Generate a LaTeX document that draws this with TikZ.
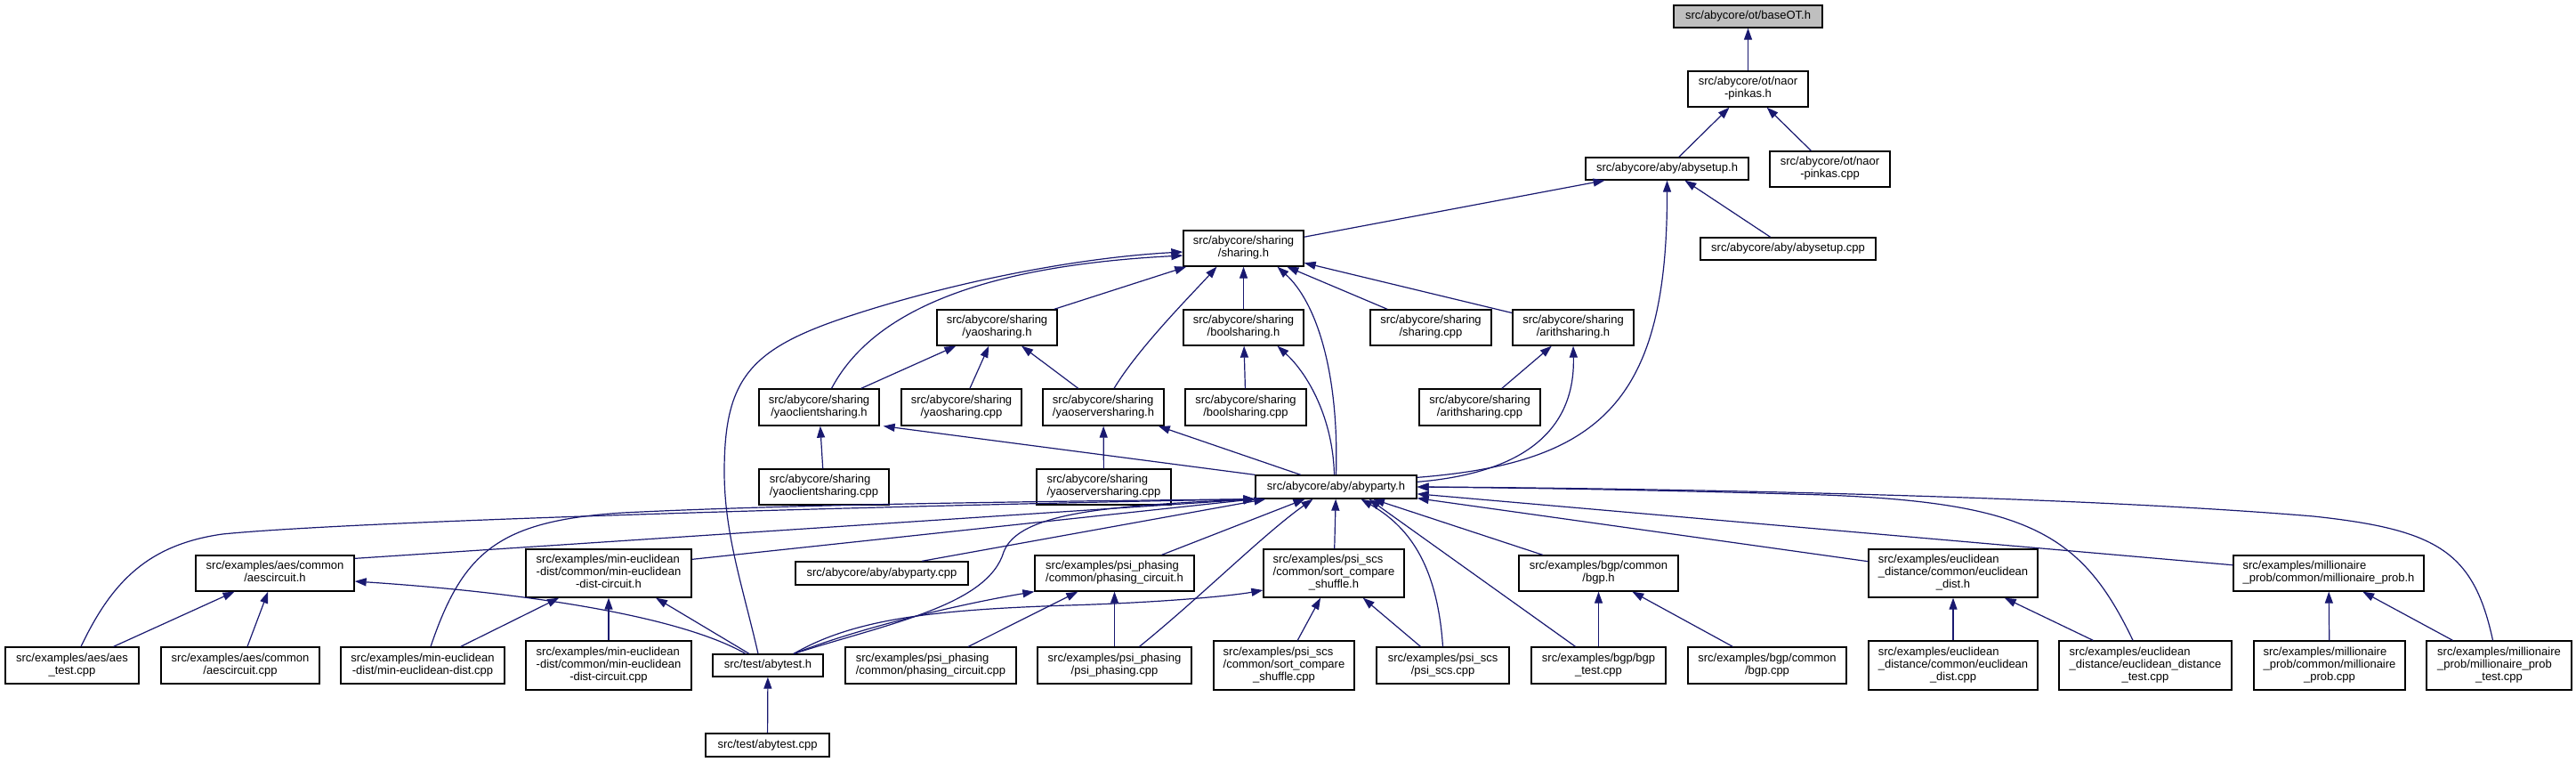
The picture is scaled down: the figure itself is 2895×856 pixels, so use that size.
\documentclass[tikz,border=0pt]{standalone}
\usepackage{fontspec}
\setmainfont{Liberation Sans}
\usetikzlibrary{arrows.meta}
\definecolor{edgeblue}{HTML}{191970}
\definecolor{rootgray}{HTML}{BFBFBF}
\newcommand\twol[2]{\begin{tabular}{@{}l@{}}#1\\\multicolumn{1}{@{}c@{}}{#2}\end{tabular}}
\newcommand\threel[3]{\begin{tabular}{@{}l@{}}#1\\#2\\\multicolumn{1}{@{}c@{}}{#3}\end{tabular}}
\newcommand\dnode[7][]{\node[filebox,#1,minimum width={#4-#3},minimum height={#6-#5}] (#2) at ({(#3+#4)/2},{(#5+#6)/2}) {#7};}
\begin{document}
\begin{tikzpicture}[x=1pt,y=-1pt,
  filebox/.style={draw=black,line width=1.3pt,fill=white,inner sep=0pt,font=\fontsize{13}{14}\selectfont},
  dep/.style={draw=edgeblue,line width=1.2pt,-{Triangle[length=13pt,width=9pt]}}]
\fill[white] (0,0) rectangle (2895,856);
\useasboundingbox (0,0) rectangle (2895,856);
% rows 0-6
\dnode[fill=rootgray]{baseOT}{1881}{2048}{6}{31}{src/abycore/ot/baseOT.h}
\dnode{naorh}{1897}{2032}{80}{120}{\twol{src/abycore/ot/naor}{-pinkas.h}}
\dnode{abysetuph}{1782}{1965}{177}{202}{src/abycore/aby/abysetup.h}
\dnode{naorcpp}{1989}{2124}{170}{210}{\twol{src/abycore/ot/naor}{-pinkas.cpp}}
\dnode{sharingh}{1330}{1465}{259}{299}{\twol{src/abycore/sharing}{/sharing.h}}
\dnode{abysetupcpp}{1911}{2108}{267}{292}{src/abycore/aby/abysetup.cpp}
\dnode{yaosharingh}{1053}{1188}{348}{388}{\twol{src/abycore/sharing}{/yaosharing.h}}
\dnode{boolsharingh}{1330}{1465}{348}{388}{\twol{src/abycore/sharing}{/boolsharing.h}}
\dnode{sharingcpp}{1540}{1676}{348}{388}{\twol{src/abycore/sharing}{/sharing.cpp}}
\dnode{arithsharingh}{1700}{1836}{348}{388}{\twol{src/abycore/sharing}{/arithsharing.h}}
\dnode{yaoclienth}{853}{988}{437}{478}{\twol{src/abycore/sharing}{/yaoclientsharing.h}}
\dnode{yaosharingcpp}{1013}{1148}{437}{478}{\twol{src/abycore/sharing}{/yaosharing.cpp}}
\dnode{yaoserverh}{1172}{1308}{437}{478}{\twol{src/abycore/sharing}{/yaoserversharing.h}}
\dnode{boolsharingcpp}{1332}{1468}{437}{478}{\twol{src/abycore/sharing}{/boolsharing.cpp}}
\dnode{arithsharingcpp}{1595}{1731}{437}{478}{\twol{src/abycore/sharing}{/arithsharing.cpp}}
\dnode{yaoclientcpp}{853}{999}{527}{567}{\twol{src/abycore/sharing}{/yaoclientsharing.cpp}}
\dnode{yaoservercpp}{1165}{1316}{527}{567}{\twol{src/abycore/sharing}{/yaoserversharing.cpp}}
\dnode{abypartyh}{1411}{1592}{534}{560}{src/abycore/aby/abyparty.h}
% row 7
\dnode{aescircuith}{220}{398}{624}{664}{\twol{src/examples/aes/common}{/aescircuit.h}}
\dnode{minh}{591}{777}{617}{671}{\threel{src/examples/min-euclidean}{-dist/common/min-euclidean}{-dist-circuit.h}}
\dnode{abypartycpp}{894}{1088}{631}{657}{src/abycore/aby/abyparty.cpp}
\dnode{phasingh}{1163}{1342}{624}{664}{\twol{src/examples/psi\_phasing}{/common/phasing\_circuit.h}}
\dnode{scsh}{1420}{1578}{617}{671}{\threel{src/examples/psi\_scs}{/common/sort\_compare}{\_shuffle.h}}
\dnode{bgph}{1707}{1886}{624}{664}{\twol{src/examples/bgp/common}{/bgp.h}}
\dnode{eucdisth}{2100}{2290}{617}{671}{\threel{src/examples/euclidean}{\_distance/common/euclidean}{\_dist.h}}
\dnode{millh}{2510}{2724}{624}{664}{\twol{src/examples/millionaire}{\_prob/common/millionaire\_prob.h}}
% row 8
\dnode{aestest}{6}{156}{727}{768}{\twol{src/examples/aes/aes}{\_test.cpp}}
\dnode{aescircuitcpp}{181}{359}{727}{768}{\twol{src/examples/aes/common}{/aescircuit.cpp}}
\dnode{mincpp}{383}{567}{727}{768}{\twol{src/examples/min-euclidean}{-dist/min-euclidean-dist.cpp}}
\dnode{mincircuitcpp}{591}{777}{720}{775}{\threel{src/examples/min-euclidean}{-dist/common/min-euclidean}{-dist-circuit.cpp}}
\dnode{abytesth}{801}{925}{735}{760}{src/test/abytest.h}
\dnode{phasingcpp}{950}{1142}{727}{768}{\twol{src/examples/psi\_phasing}{/common/phasing\_circuit.cpp}}
\dnode{psiphasingcpp}{1166}{1339}{727}{768}{\twol{src/examples/psi\_phasing}{/psi\_phasing.cpp}}
\dnode{scscpp}{1364}{1522}{720}{775}{\threel{src/examples/psi\_scs}{/common/sort\_compare}{\_shuffle.cpp}}
\dnode{psiscscpp}{1547}{1696}{727}{768}{\twol{src/examples/psi\_scs}{/psi\_scs.cpp}}
\dnode{bgptest}{1721}{1872}{727}{768}{\twol{src/examples/bgp/bgp}{\_test.cpp}}
\dnode{bgpcpp}{1897}{2075}{727}{768}{\twol{src/examples/bgp/common}{/bgp.cpp}}
\dnode{eucdistcpp}{2100}{2290}{720}{775}{\threel{src/examples/euclidean}{\_distance/common/euclidean}{\_dist.cpp}}
\dnode{euctest}{2314}{2508}{720}{775}{\threel{src/examples/euclidean}{\_distance/euclidean\_distance}{\_test.cpp}}
\dnode{millcpp}{2533}{2703}{720}{775}{\threel{src/examples/millionaire}{\_prob/common/millionaire}{\_prob.cpp}}
\dnode{milltest}{2727}{2890}{720}{775}{\threel{src/examples/millionaire}{\_prob/millionaire\_prob}{\_test.cpp}}
\dnode{abytestcpp}{793}{932}{824}{850}{src/test/abytest.cpp}
% straight edges
\draw[dep] (naorh) -- (baseOT);
\draw[dep] (abysetuph) -- (naorh);
\draw[dep] (naorcpp) -- (naorh);
\draw[dep] (sharingh) -- (abysetuph);
\draw[dep] (abysetupcpp) -- (abysetuph);
\draw[dep] (yaosharingh) -- (sharingh);
\draw[dep] (boolsharingh) -- (sharingh);
\draw[dep] (sharingcpp) -- (sharingh);
\draw[dep] (arithsharingh) -- (sharingh);
\draw[dep] (yaoclienth) -- (yaosharingh);
\draw[dep] (yaosharingcpp) -- (yaosharingh);
\draw[dep] (yaoserverh) -- (yaosharingh);
\draw[dep] (boolsharingcpp) -- (boolsharingh);
\draw[dep] (arithsharingcpp) -- (arithsharingh);
\draw[dep] (yaoclientcpp) -- (yaoclienth);
\draw[dep] (yaoservercpp) -- (yaoserverh);
\draw[dep] (abypartyh.north west) -- ([xshift=4pt]yaoclienth.south east);
\draw[dep] (abypartyh) -- (yaoserverh);
\draw[dep] (aestest) -- (aescircuith);
\draw[dep] (aescircuitcpp) -- (aescircuith);
\draw[dep] (mincpp) -- (minh);
\draw[dep] (mincircuitcpp) -- (minh);
\draw[dep] (abytestcpp) -- (abytesth);
\draw[dep] (phasingcpp) -- (phasingh);
\draw[dep] (psiphasingcpp) -- (phasingh);
\draw[dep] (scscpp) -- (scsh);
\draw[dep] (psiscscpp) -- (scsh);
\draw[dep] (bgptest) -- (bgph);
\draw[dep] (bgpcpp) -- (bgph);
\draw[dep] (eucdistcpp) -- (eucdisth);
\draw[dep] (euctest) -- (eucdisth);
\draw[dep] (millcpp) -- (millh);
\draw[dep] (milltest) -- (millh);
\draw[dep] (scsh) -- (abypartyh);
\draw[dep] (phasingh) -- (abypartyh);
\draw[dep] (bgph) -- (abypartyh);
\draw[dep] ([xshift=-26pt]bgptest.north) -- ([xshift=37pt]abypartyh.south);
\draw[dep] (eucdisth) -- (abypartyh);
\draw[dep] (millh) -- (abypartyh);
\draw[dep] ([yshift=-4pt]aescircuith.north east) -- (abypartyh.south west);
\draw[dep] ([yshift=-12pt]minh.north east) -- (abypartyh.south west);
\draw[dep] ([xshift=45pt]abypartycpp.north) -- ([xshift=12pt]abypartyh.south west);
\draw[dep] ([xshift=-21pt]abytesth.north) -- ([xshift=53pt]minh.south);
% curved edges
\draw[dep] ([yshift=-3pt]abypartyh.north east) .. controls (1800,520) and (1874,450) .. (abysetuph.south);
\draw[dep] ([yshift=-8pt]abypartyh.north east) .. controls (1730,530) and (1770,470) .. (arithsharingh.south);
\draw[dep] ([xshift=14pt]yaoclienth.north) .. controls (975,360) and (1080,300) .. ([yshift=-8pt]sharingh.west);
\draw[dep] ([xshift=-11pt]abytesth.north) .. controls (835,660) and (814,600) .. (814,530) .. controls (814,430) and (840,395) .. (940,360) .. controls (1050,322) and (1200,290) .. ([yshift=-4pt]sharingh.west);
\draw[dep] ([xshift=12pt]yaoserverh.north) .. controls (1280,390) and (1340,330) .. ([xshift=-30pt]sharingh.south);
\draw[dep] (abypartyh.north) .. controls (1505,420) and (1480,340) .. ([xshift=38pt]sharingh.south);
\draw[dep] ([xshift=-2pt]abypartyh.north) .. controls (1498,470) and (1470,420) .. ([xshift=38pt]boolsharingh.south);
\draw[dep] ([xshift=10pt]aestest.north) .. controls (125,655) and (165,612) .. (250,600) .. controls (400,585) and (1000,568) .. (abypartyh.south west);
\draw[dep] ([xshift=9pt]mincpp.north) .. controls (520,620) and (560,585) .. (700,576) .. controls (900,566) and (1200,563) .. (abypartyh.south west);
\draw[dep] ([xshift=29pt]abytesth.north) .. controls (1000,700) and (1110,680) .. (1128,620) .. controls (1145,575) and (1250,568) .. (abypartyh.south west);
\draw[dep] ([xshift=29pt]abytesth.north) .. controls (980,700) and (1100,675) .. (phasingh.south west);
\draw[dep] ([xshift=29pt]abytesth.north) .. controls (960,695) and (1050,685) .. (1200,680) .. controls (1300,677) and (1380,670) .. ([yshift=-19pt]scsh.west);
\draw[dep] ([xshift=-25pt]abytesth.north) .. controls (760,690) and (580,665) .. ([yshift=-9pt]aescircuith.east);
\draw[dep] ([xshift=28pt]psiphasingcpp.north) .. controls (1350,670) and (1420,600) .. ([xshift=-26pt]abypartyh.south);
\draw[dep] (psiscscpp.north) .. controls (1615,630) and (1580,590) .. ([xshift=28pt]abypartyh.south);
\draw[dep] ([xshift=-14pt]euctest.north) .. controls (2340,600) and (2280,565) .. (2050,556) .. controls (1850,550) and (1700,548) .. (abypartyh.east);
\draw[dep] ([xshift=-7pt]milltest.north) .. controls (2780,620) and (2740,595) .. (2600,580) .. controls (2300,555) and (1800,548) .. (abypartyh.east);
\end{tikzpicture}
\end{document}
